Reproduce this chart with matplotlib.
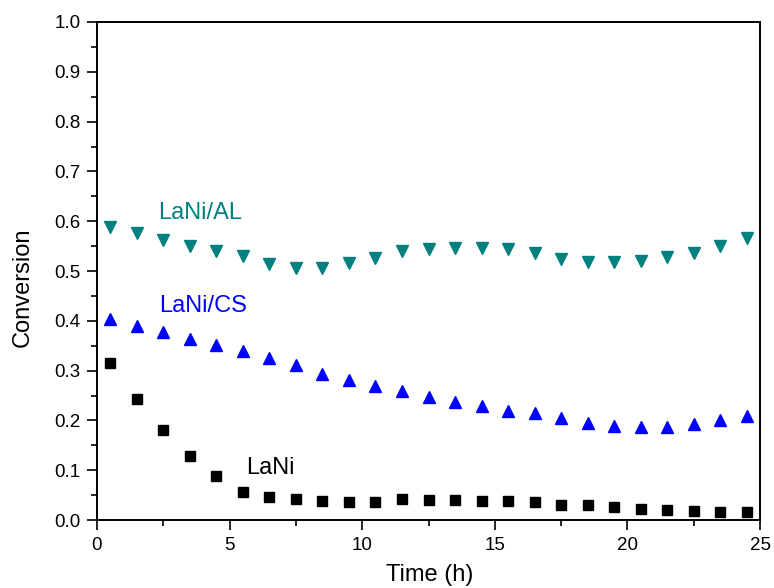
import numpy as np
import matplotlib.pyplot as plt
from matplotlib.ticker import MultipleLocator, FormatStrFormatter

plt.rcParams['font.family'] = ['Liberation Sans', 'DejaVu Sans']

# sampling times (h)
time_h = [0.5, 1.5, 2.5, 3.5, 4.5, 5.5, 6.5, 7.5, 8.5, 9.5, 10.5, 11.5, 12.5,
          13.5, 14.5, 15.5, 16.5, 17.5, 18.5, 19.5, 20.5, 21.5, 22.5, 23.5, 24.5]

lani = [0.315, 0.243, 0.181, 0.129, 0.089, 0.057, 0.047, 0.042, 0.039, 0.037,
        0.037, 0.042, 0.040, 0.040, 0.039, 0.039, 0.037, 0.031, 0.030, 0.026,
        0.023, 0.021, 0.018, 0.017, 0.016]

lani_cs = [0.404, 0.390, 0.378, 0.364, 0.352, 0.339, 0.325, 0.311, 0.293, 0.281,
           0.269, 0.260, 0.248, 0.237, 0.228, 0.219, 0.215, 0.205, 0.195, 0.189,
           0.187, 0.187, 0.193, 0.200, 0.209]

lani_al = [0.589, 0.576, 0.562, 0.550, 0.540, 0.531, 0.515, 0.507, 0.506, 0.517,
           0.526, 0.541, 0.545, 0.547, 0.546, 0.544, 0.536, 0.525, 0.518, 0.518,
           0.521, 0.528, 0.537, 0.550, 0.567]

fig = plt.figure(figsize=(7.74, 5.88), dpi=100)
ax = fig.add_axes([0.1253, 0.1156, 0.8567, 0.847])

ax.plot(time_h, lani, 's', color='black', markersize=6.5, linestyle='none')
ax.plot(time_h, lani_cs, '^', color='#0000ff', markersize=8.5, linestyle='none')
ax.plot(time_h, lani_al, 'v', color='#008080', markersize=8.5, linestyle='none')

# series labels
ax.text(2.3, 0.616, 'LaNi/AL', color='#008080', fontsize=17, va='center')
ax.text(2.34, 0.430, 'LaNi/CS', color='#0000ff', fontsize=17, va='center')
ax.text(5.62, 0.104, 'LaNi', color='black', fontsize=17, va='center')

ax.set_xlim(0, 25)
ax.set_ylim(0, 1.0)
ax.xaxis.set_major_locator(MultipleLocator(5))
ax.xaxis.set_minor_locator(MultipleLocator(2.5))
ax.yaxis.set_major_locator(MultipleLocator(0.1))
ax.yaxis.set_minor_locator(MultipleLocator(0.05))
ax.yaxis.set_major_formatter(FormatStrFormatter('%.1f'))

ax.tick_params(which='both', direction='out', top=False, right=False,
               width=1.2, labelsize=13.5, pad=5)
ax.tick_params(which='major', length=7)
ax.tick_params(which='minor', length=4)
for sp in ax.spines.values():
    sp.set_linewidth(1.4)

ax.set_xlabel('Time (h)', fontsize=17, va='center')
ax.set_ylabel('Conversion', fontsize=17, va='center')
ax.xaxis.set_label_coords(0.502, -0.110)
ax.yaxis.set_label_coords(-0.112, 0.468)

fig.savefig('out.png', dpi=100)
